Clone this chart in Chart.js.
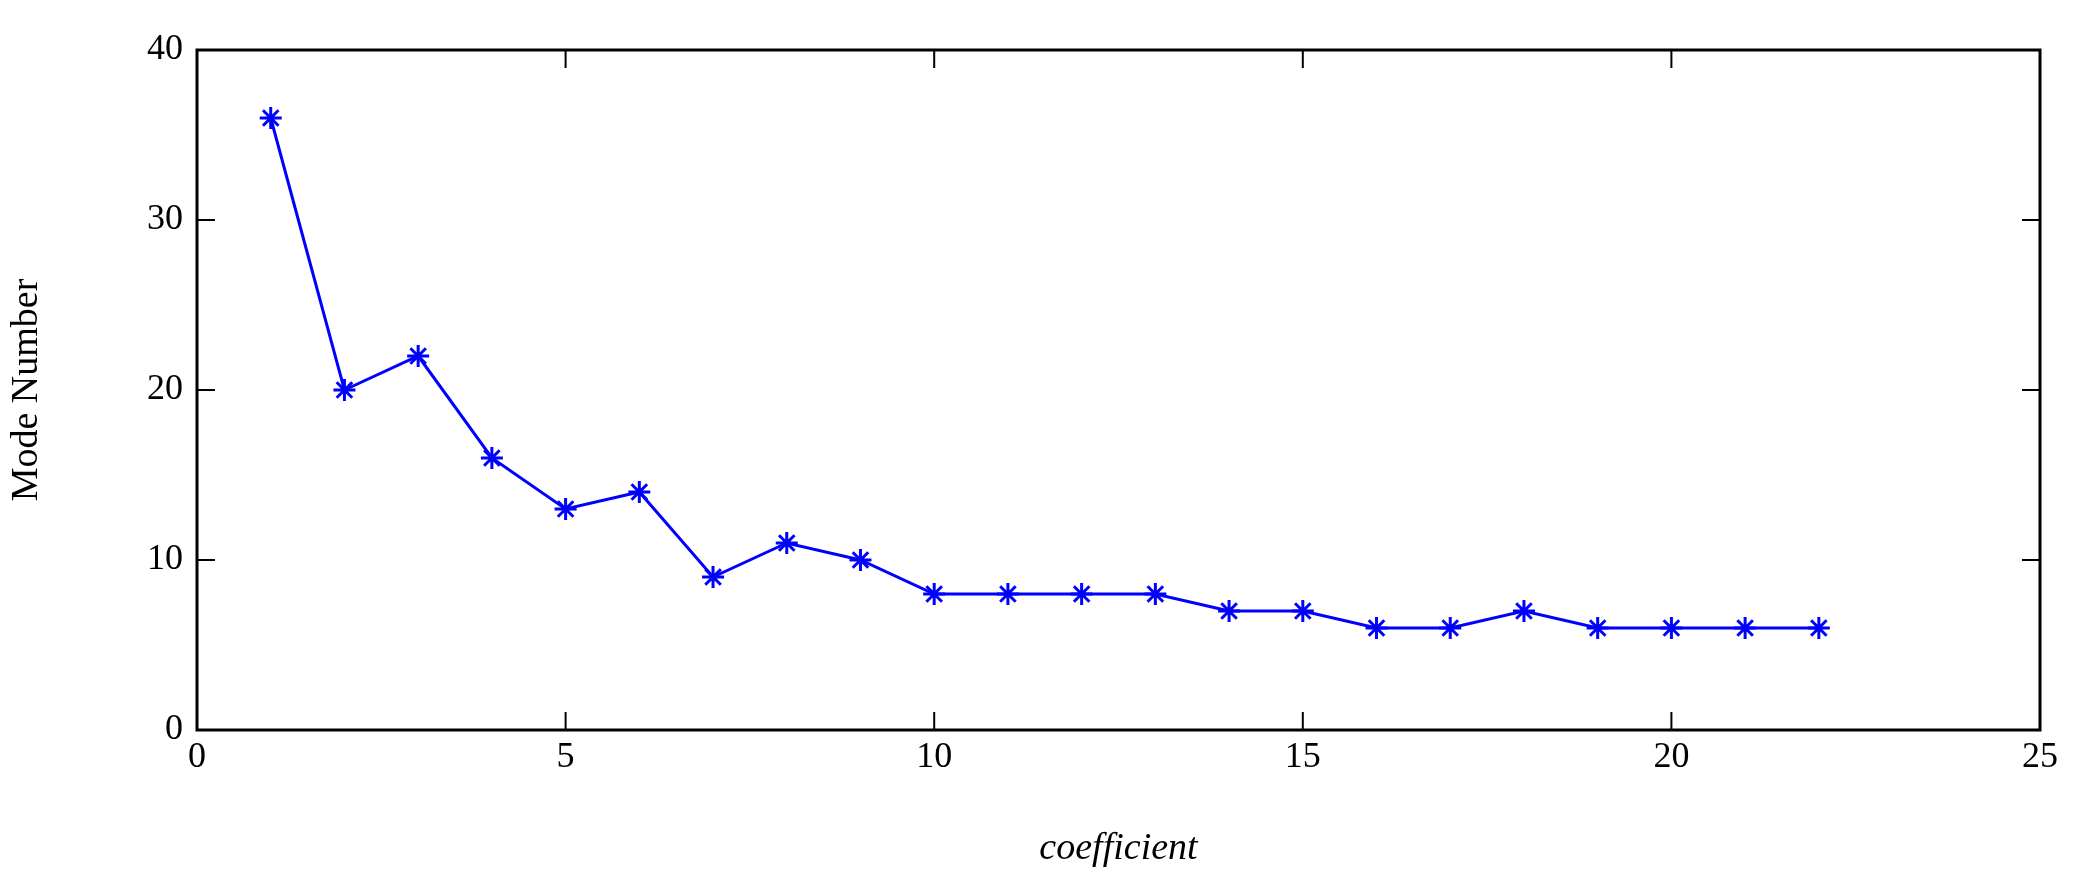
<!DOCTYPE html>
<html>
<head>
<meta charset="utf-8">
<script src="https://cdn.jsdelivr.net/npm/chart.js@4/dist/chart.umd.min.js"></script>
<style>html,body{margin:0;background:#fff}canvas{display:block}</style>
</head>
<body>
<canvas id="c" width="2099" height="876"></canvas>
<script>
// Valores.
var coeficientes = [1,2,3,4,5,6,7,8,9,10,11,12,13,14,15,16,17,18,19,20,21,22];
var modos = [36,20,22,16,13,14,9,11,10,8,8,8,8,7,7,6,6,7,6,6,6,6];
var FUENTE = "'Liberation Serif', 'Times New Roman', serif";

// Marco completo y marcas de eje hacia dentro, como en MATLAB.
var marco = {
    id: "marco",
    afterDraw: function (chart) {
        var ctx = chart.ctx, a = chart.chartArea;
        var sx = chart.scales.x, sy = chart.scales.y, L = 18;
        ctx.save();
        ctx.strokeStyle = "#000";
        ctx.lineWidth = 3;
        ctx.strokeRect(a.left, a.top, a.right - a.left, a.bottom - a.top);
        ctx.lineWidth = 2;
        ctx.beginPath();
        sx.ticks.forEach(function (t) {
            var p = sx.getPixelForValue(t.value);
            ctx.moveTo(p, a.bottom); ctx.lineTo(p, a.bottom - L);
            ctx.moveTo(p, a.top); ctx.lineTo(p, a.top + L);
        });
        sy.ticks.forEach(function (t) {
            var p = sy.getPixelForValue(t.value);
            ctx.moveTo(a.left, p); ctx.lineTo(a.left + L, p);
            ctx.moveTo(a.right, p); ctx.lineTo(a.right - L, p);
        });
        ctx.stroke();
        ctx.restore();
    }
};

new Chart(document.getElementById("c"), {
    type: "scatter",
    data: {
        datasets: [{
            data: coeficientes.map(function (x, i) { return { x: x, y: modos[i] }; }),
            showLine: true,
            borderColor: "#0000ff",
            backgroundColor: "#0000ff",
            borderWidth: 3,
            pointStyle: "star",
            pointRadius: 11,
            pointBorderWidth: 3,
            tension: 0
        }]
    },
    options: {
        responsive: false,
        animation: false,
        layout: { padding: { top: 50, right: 59, left: 0, bottom: 0 } },
        plugins: { legend: { display: false }, tooltip: { enabled: false } },
        scales: {
            x: {
                type: "linear", min: 0, max: 25,
                ticks: { stepSize: 5, color: "#000", padding: 6, font: { family: FUENTE, size: 36 } },
                grid: { display: false, drawTicks: false },
                border: { display: false },
                title: { display: true, text: "coefficient", color: "#000", padding: { top: 4 },
                         font: { family: FUENTE, size: 38, style: "italic" } },
                afterFit: function (s) { s.height = 146; }
            },
            y: {
                min: 0, max: 40,
                ticks: { stepSize: 10, color: "#000", padding: 14, font: { family: FUENTE, size: 36 } },
                grid: { display: false, drawTicks: false },
                border: { display: false },
                title: { display: true, text: "Mode Number", color: "#000", padding: { bottom: 8 },
                         font: { family: FUENTE, size: 38 } },
                afterFit: function (s) { s.width = 197; }
            }
        }
    },
    plugins: [marco]
});
</script>
</body>
</html>
